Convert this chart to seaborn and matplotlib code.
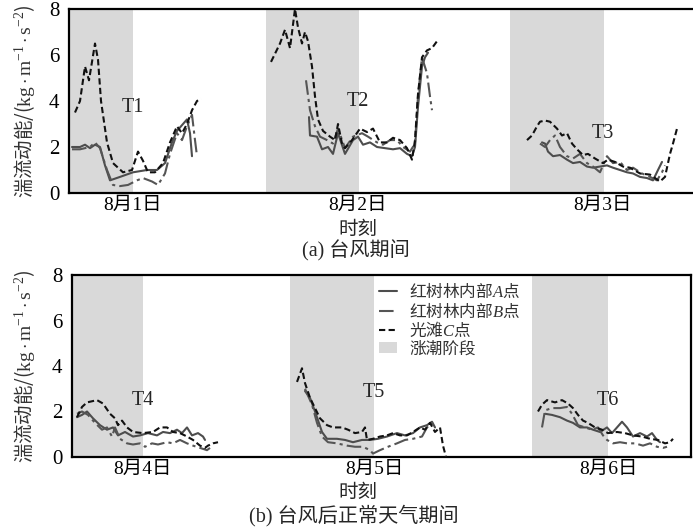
import matplotlib
matplotlib.use("Agg")
import matplotlib.pyplot as plt
import seaborn as sns
import pandas as pd
from matplotlib.lines import Line2D
from matplotlib.patches import Patch

sns.set_theme(style="white")
plt.rcParams['font.family'] = ['Liberation Serif', 'Noto Sans CJK SC', 'DejaVu Sans']
plt.rcParams['mathtext.fontset'] = 'custom'
plt.rcParams['mathtext.rm'] = 'Liberation Serif'
plt.rcParams['mathtext.it'] = 'Liberation Serif:italic'
plt.rcParams['mathtext.bf'] = 'Liberation Serif:bold'

# ---------------- data (time index, TKE) ----------------
# (a) typhoon period
a1_t = [0.3,1.1,1.6,2.1,2.6,3.1,3.6,4.1,5.1,6.4,7.8,8.8,9.6,10.3,10.8,11.3,11.8,12.1,12.3]
a1_v = [2.0,2.0,2.1,1.95,2.1,2.0,1.2,0.55,0.7,0.9,1.0,1.0,1.3,2.2,2.7,2.95,3.2,2.6,1.6]
b1_t = [0.3,1.1,2.1,2.6,3.1,3.8,4.4,5.1,5.9,6.8,7.4,8.3,8.9,9.6,10.1,10.8,11.3,11.8,12.3,12.6,12.8]
b1_v = [1.9,1.9,2.0,2.2,1.95,1.0,0.35,0.3,0.35,0.55,0.65,0.5,0.35,0.85,1.7,2.6,2.3,2.9,3.4,2.3,1.6]
c1_t = [0.6,1.1,1.6,2.0,2.6,2.9,3.2,3.8,4.4,5.4,6.3,6.9,7.4,7.9,8.6,9.4,10.1,10.8,11.3,11.8,12.3,12.8,13.2]
c1_v = [3.5,4.0,5.5,4.9,6.5,5.8,4.0,2.2,1.3,0.9,1.0,1.8,1.4,0.9,0.9,1.3,2.2,2.9,2.6,3.0,3.6,4.0,4.1]

a2_t = [24.0,24.1,24.8,25.3,25.9,26.4,26.9,27.6,28.4,28.9,29.4,30.1,30.8,31.6,32.4,33.1,33.8,34.3,34.6,34.9,35.3,35.6,35.9]
a2_v = [3.3,2.5,2.45,1.9,2.0,1.7,2.6,1.7,2.3,2.45,2.1,2.2,2.0,1.95,1.9,1.95,1.7,1.6,2.0,3.75,5.5,5.9,6.1]
b2_t = [23.7,24.1,24.6,25.1,25.8,26.4,26.9,27.6,28.4,29.3,29.9,30.8,31.4,32.1,32.8,33.4,34.1,34.6,34.9,35.3,35.8,36.1,36.3]
b2_v = [4.9,3.6,2.9,2.45,2.3,2.15,2.8,1.95,2.45,2.6,2.45,2.2,2.1,2.3,2.3,2.0,1.8,2.15,4.2,5.9,5.2,4.2,3.6]
c2_t = [20.2,21.1,21.6,22.1,22.6,22.9,23.3,23.6,23.9,24.3,24.6,24.9,25.4,26.1,26.6,26.9,27.3,27.6,28.3,29.1,29.8,30.4,31.1,31.8,32.4,33.1,33.8,34.3,34.6,34.9,35.3,35.8,36.3,36.8]
c2_v = [5.7,6.5,7.1,6.3,8.0,7.2,6.5,7.0,6.6,5.5,4.2,3.2,2.7,2.45,2.3,3.0,2.15,1.95,2.3,2.8,2.65,2.8,2.2,2.2,2.4,2.3,1.95,1.45,2.3,4.3,5.9,6.2,6.3,6.6]

a3_t = [47.3,47.6,47.9,48.4,49.1,49.8,50.4,51.1,51.8,52.4,53.1,53.8,54.4,55.1,55.8,56.4,57.1,57.8,58.4,58.9,59.3]
a3_v = [2.2,2.15,1.8,1.6,1.65,1.45,1.3,1.35,1.15,1.1,1.15,1.2,1.1,1.0,0.9,0.85,0.7,0.65,0.55,1.0,1.35]
b3_t = [47.1,47.6,48.1,48.6,49.1,49.8,50.4,51.1,51.8,52.4,53.1,53.8,54.4,55.1,55.8,56.4,57.3,58.1,58.8,59.3,59.6]
b3_v = [2.15,2.0,2.3,2.5,2.0,1.6,1.5,1.7,1.3,1.15,0.9,1.6,1.3,1.35,1.0,1.1,0.85,0.7,0.55,0.9,1.2]
c3_t = [45.8,46.3,46.8,47.1,47.6,48.1,48.8,49.3,49.8,50.3,50.8,51.4,51.9,52.6,53.4,53.9,54.6,55.4,56.1,57.1,58.1,59.1,59.6,60.1,60.4,60.8]
c3_v = [2.3,2.5,2.9,3.1,3.15,3.1,2.8,2.5,2.6,2.15,1.9,1.65,1.7,1.5,1.3,1.45,1.35,1.15,1.1,0.85,0.8,0.5,0.7,1.7,2.15,2.8]

# (b) normal weather after typhoon
a4_t = [0.5,1.0,1.5,2.1,2.8,3.5,4.1,4.6,5.3,6.1,6.8,7.6,8.5,9.1,9.8,10.5,11.0,11.5,12.0,12.6,13.1,13.3]
a4_v = [1.75,1.85,2.0,1.7,1.4,1.2,1.3,0.95,1.1,0.9,0.95,1.05,0.95,1.1,1.05,1.2,1.05,1.3,0.95,1.05,0.9,0.75]
b4_t = [0.5,1.0,1.6,2.3,3.0,3.5,4.0,4.3,4.8,5.5,6.1,6.8,7.3,8.0,8.6,9.5,10.1,10.8,11.5,12.1,12.8,13.5,13.8]
b4_v = [1.9,2.0,1.85,1.5,1.2,1.3,0.9,1.3,0.8,0.6,0.55,0.6,0.45,0.6,0.55,0.65,0.6,0.75,0.6,0.5,0.4,0.3,0.4]
c4_t = [0.5,1.0,1.5,2.5,3.1,3.8,4.3,4.6,5.0,5.5,6.1,7.1,8.1,8.8,9.5,10.1,10.8,11.5,12.1,12.8,13.3,13.6,14.1,14.6]
c4_v = [1.75,2.2,2.4,2.5,2.35,1.9,1.7,1.4,1.6,1.3,1.1,1.05,1.1,1.3,1.3,1.1,1.05,0.9,0.75,0.5,0.4,0.5,0.6,0.65]

a5_t = [23.3,23.8,24.3,25.0,25.5,26.5,27.3,28.1,29.0,29.8,30.6,31.5,32.5,33.3,34.1,34.8,35.5,36.0,36.3]
a5_v = [2.9,2.6,2.0,1.1,0.8,0.8,0.75,0.65,0.75,0.75,0.8,0.9,1.05,0.95,1.05,1.3,1.4,1.55,1.3]
b5_t = [23.3,24.0,24.5,25.0,25.6,26.5,27.5,28.3,29.1,29.8,30.1,30.8,31.6,32.5,33.3,34.1,35.0,35.5,36.0,36.3]
b5_v = [3.0,2.3,1.5,0.9,0.65,0.6,0.5,0.45,0.45,0.3,0.15,0.3,0.45,0.6,0.75,0.8,0.9,1.3,1.5,1.3]
c5_t = [22.5,23.0,23.3,23.8,24.3,24.8,25.5,26.1,27.0,27.6,28.3,29.0,29.3,29.5,30.1,30.8,31.5,32.1,32.8,33.5,34.1,34.8,35.3,35.8,36.3,36.8,37.1,37.4]
c5_v = [3.3,3.9,3.25,2.6,2.15,1.7,1.4,1.3,1.3,1.2,1.05,1.1,1.3,0.75,0.8,0.9,0.95,1.05,0.95,0.95,1.1,1.3,1.2,1.5,1.1,1.3,0.5,0.0]

a6_t = [47.3,48.0,48.8,49.5,50.1,50.8,51.5,52.1,52.8,53.5,54.0,54.5,55.0,55.5,56.1,56.8,57.5,58.0,58.5,58.8]
a6_v = [1.9,1.85,1.75,1.6,1.5,1.3,1.3,1.2,1.1,1.3,1.05,1.3,1.55,1.3,0.9,1.05,0.9,1.05,0.75,0.65]
b6_t = [47.0,47.3,48.0,48.8,49.5,50.0,50.6,51.3,52.0,52.6,53.1,53.5,54.1,54.8,55.5,56.3,57.1,57.8,58.5,59.1,59.5]
b6_v = [1.3,2.05,2.15,2.15,2.2,1.9,1.4,1.3,1.2,1.3,0.95,0.75,0.6,0.65,0.6,0.6,0.5,0.6,0.45,0.4,0.45]
c6_t = [46.6,47.0,47.5,48.3,49.0,49.6,50.1,50.6,51.1,51.6,52.3,53.0,53.6,54.5,55.3,56.1,57.0,57.8,58.6,59.3,59.8,60.1]
c6_v = [2.0,2.3,2.5,2.4,2.5,2.35,2.15,1.85,1.6,1.5,1.3,1.2,1.05,1.1,1.05,0.95,0.9,0.8,0.75,0.6,0.65,0.8]

# tick labels & positions, flood-tide spans, event labels
top_ticks = [6.4, 28.9, 53.4]
top_ticklabels = ['8月1日', '8月2日', '8月3日']
bot_ticks = [7.1, 30.2, 53.6]
bot_ticklabels = ['8月4日', '8月5日', '8月6日']
top_flood = [(0.0, 6.4), (19.7, 29.0), (44.1, 53.5)]
bot_flood = [(0.0, 7.1), (21.8, 30.2), (46.0, 53.6)]
top_events = ['T1', 'T2', 'T3']
top_event_y = [3.7, 4.0, 2.6]
bot_events = ['T4', 'T5', 'T6']
bot_event_y = [2.5, 2.85, 2.5]

series_names = ['A', 'B', 'C']
legend_labels = ['红树林内部$\\mathit{A}$点', '红树林内部$\\mathit{B}$点', '光滩$\\mathit{C}$点', '涨潮阶段']
colors = {'A': '#4d4d4d', 'B': '#555555', 'C': '#111111'}
dashes = {'A': '', 'B': (7, 2, 1.5, 2), 'C': (3, 1.6)}

def build(segs):
    rows = []
    for seg_id, (name, t, v) in enumerate(segs):
        for ti, vi in zip(t, v):
            rows.append({'t': ti, 'v': vi, 'series': name, 'seg': seg_id})
    return pd.DataFrame(rows)

df_top = build([('A', a1_t, a1_v), ('B', b1_t, b1_v), ('C', c1_t, c1_v),
                ('A', a2_t, a2_v), ('B', b2_t, b2_v), ('C', c2_t, c2_v),
                ('A', a3_t, a3_v), ('B', b3_t, b3_v), ('C', c3_t, c3_v)])
df_bot = build([('A', a4_t, a4_v), ('B', b4_t, b4_v), ('C', c4_t, c4_v),
                ('A', a5_t, a5_v), ('B', b5_t, b5_v), ('C', c5_t, c5_v),
                ('A', a6_t, a6_v), ('B', b6_t, b6_v), ('C', c6_t, c6_v)])

W, H = 693, 531
fig = plt.figure(figsize=(W / 100, H / 100), dpi=100)
ax1 = fig.add_axes([69 / W, 1 - 193 / H, (696 - 69) / W, (193 - 9) / H])
ax2 = fig.add_axes([72 / W, 1 - 457 / H, (691 - 72) / W, (457 - 275) / H])

FS = 14
cjk = {'family': ['Liberation Serif', 'Noto Sans CJK SC', 'DejaVu Sans']}
cjk_math = {'family': ['Noto Sans CJK SC']}

def style_axis(ax, df, flood, ticks, ticklabels, events, event_y, xmax, left_px):
    for x0, x1 in flood:
        ax.axvspan(x0, x1, color='#d9d9d9', lw=0, zorder=0)
    sns.lineplot(data=df, x='t', y='v', hue='series', style='series', units='seg',
                 estimator=None, sort=False, palette=colors, dashes=dashes,
                 linewidth=1.5, legend=False, ax=ax, zorder=3)
    for tx, lab, ey in zip(ticks, events, event_y):
        ax.text(tx, ey, lab, ha='center', va='center', fontsize=FS + 0.5,
                family='Liberation Serif', zorder=4)
    ax.set_xlim(0, xmax)
    ax.set_ylim(0, 8)
    ax.set_yticks([0, 2, 4, 6, 8])
    ax.set_xticks(ticks)
    ax.set_xticklabels(ticklabels, fontdict=cjk, fontsize=FS)
    for lab in ax.get_yticklabels():
        lab.set_family('Liberation Serif')
        lab.set_fontsize(FS + 1)
    ax.tick_params(axis='both', direction='in', length=7, width=1.5, color='black',
                   labelcolor='black')
    ax.tick_params(axis='x', pad=3)
    ax.tick_params(axis='y', pad=7)
    for s in ax.spines.values():
        s.set_linewidth(1.6)
        s.set_color('black')
    ax.set_xlabel('')
    ax.set_ylabel('湍流动能/($\\mathrm{kg}\\cdot\\mathrm{m}^{-1}\\cdot\\mathrm{s}^{-2}$)',
                  fontsize=FS, fontdict=cjk_math, color='#333333')
    ax_w_px = ax.get_position().width * W
    ax.yaxis.set_label_coords((37 - left_px) / ax_w_px, 0.5)
    ax.set_facecolor('white')

style_axis(ax1, df_top, top_flood, top_ticks, top_ticklabels, top_events, top_event_y, 62.7, 69)
ax1.spines['right'].set_visible(False)
style_axis(ax2, df_bot, bot_flood, bot_ticks, bot_ticklabels, bot_events, bot_event_y, 61.9, 72)

fig.text(358 / W, 1 - 230 / H, '时刻', ha='center', va='center', fontsize=FS, **cjk)
fig.text(356 / W, 1 - 251 / H, '(a) 台风期间', ha='center', va='center', fontsize=FS + 0.5, **cjk)
fig.text(358 / W, 1 - 493 / H, '时刻', ha='center', va='center', fontsize=FS, **cjk)
fig.text(354 / W, 1 - 516 / H, '(b) 台风后正常天气期间', ha='center', va='center', fontsize=FS + 0.5, **cjk)

handles = []
for s in series_names:
    h = Line2D([0], [0], color=colors[s], lw=1.5)
    if dashes[s]:
        h.set_dashes(dashes[s])
    handles.append(h)
handles.append(Patch(facecolor='#d9d9d9', edgecolor='none'))
leg = fig.legend(handles, legend_labels, loc='upper left',
                 bbox_to_anchor=(379 / W, 1 - 282 / H), frameon=False,
                 prop={'family': 'Noto Sans CJK SC', 'size': 12},
                 handlelength=1.1, handletextpad=0.7, labelspacing=0.02,
                 borderpad=0, borderaxespad=0)
for t in leg.get_texts():
    t.set_color('#333333')

fig.savefig('out.png', dpi=100)
